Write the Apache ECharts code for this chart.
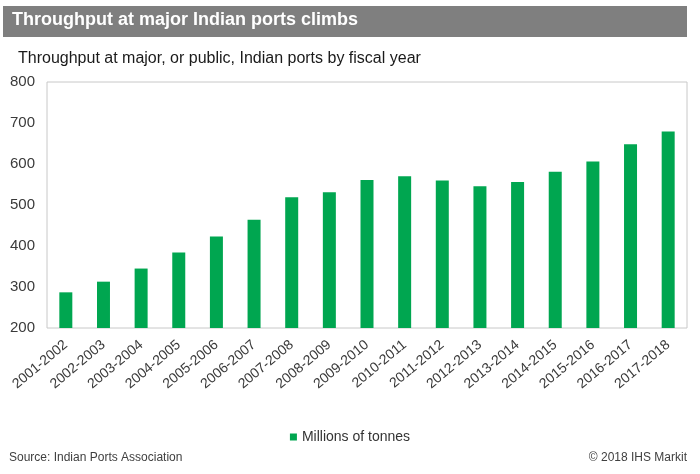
<!DOCTYPE html>
<html>
<head>
<meta charset="utf-8">
<script src="https://cdn.jsdelivr.net/npm/echarts@6/dist/echarts.min.js"></script>
<style>
  html, body { margin: 0; padding: 0; background: #fff; }
  #main { width: 700px; height: 474px; }
</style>
</head>
<body>
<div id="main"></div>
<script>
// fiscal years and throughput (millions of tonnes)
var years = ['2001-2002', '2002-2003', '2003-2004', '2004-2005', '2005-2006', '2006-2007',
  '2007-2008', '2008-2009', '2009-2010', '2010-2011', '2011-2012', '2012-2013',
  '2013-2014', '2014-2015', '2015-2016', '2016-2017', '2017-2018'];
var tonnes = [287, 313, 345, 384, 423, 464, 519, 531, 561, 570, 560, 546, 556, 581, 606, 648, 679];
var yTicks = [200, 300, 400, 500, 600, 700, 800];

var chart = echarts.init(document.getElementById('main'), null, { renderer: 'canvas' });

var option = {
  backgroundColor: '#ffffff',
  animation: false,
  textStyle: { fontFamily: 'Liberation Sans, Arial, sans-serif' },
  graphic: [
    {
      type: 'rect',
      shape: { x: 3, y: 6, width: 684, height: 31 },
      style: { fill: '#7f7f7f' }
    },
    {
      type: 'text',
      left: 12, top: 11,
      style: {
        text: 'Throughput at major Indian ports climbs',
        fill: '#ffffff',
        font: 'bold 18px Liberation Sans, Arial, sans-serif'
      }
    },
    {
      type: 'text',
      left: 18, top: 51,
      style: {
        text: 'Throughput at major, or public, Indian ports by fiscal year',
        fill: '#1a1a1a',
        font: '16px Liberation Sans, Arial, sans-serif'
      }
    },
    {
      type: 'text',
      left: 9, top: 452,
      style: {
        text: 'Source: Indian Ports Association',
        fill: '#404040',
        font: '12px Liberation Sans, Arial, sans-serif'
      }
    },
    {
      type: 'text',
      right: 13, top: 452,
      style: {
        text: '\u00a9 2018 IHS Markit',
        fill: '#404040',
        font: '12px Liberation Sans, Arial, sans-serif'
      }
    }
  ],
  legend: {
    data: ['Millions of tonnes'],
    left: 'center',
    top: 425,
    icon: 'rect',
    itemWidth: 7,
    itemHeight: 7,
    itemGap: 4,
    textStyle: { fontSize: 14, color: '#333333' }
  },
  grid: {
    left: 47, right: 13, top: 82, bottom: 146,
    show: true,
    borderColor: '#c8c8c8',
    borderWidth: 1
  },
  xAxis: {
    type: 'category',
    data: years,
    axisLine: { show: false },
    axisTick: { show: false },
    axisLabel: {
      rotate: 40,
      margin: 15,
      fontSize: 14,
      color: '#3a3a3a',
      interval: 0
    }
  },
  yAxis: {
    type: 'value',
    min: yTicks[0],
    max: yTicks[yTicks.length - 1],
    interval: 100,
    splitLine: { show: false },
    axisLine: { show: false },
    axisTick: { show: false },
    axisLabel: { fontSize: 15, color: '#3a3a3a', margin: 12 }
  },
  series: [{
    name: 'Millions of tonnes',
    type: 'bar',
    data: tonnes,
    barWidth: 13,
    itemStyle: { color: '#00a650' }
  }]
};

chart.setOption(option);
</script>
</body>
</html>
